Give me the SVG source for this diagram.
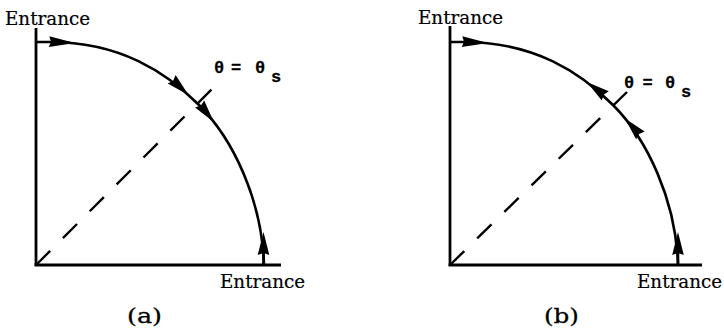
<svg xmlns="http://www.w3.org/2000/svg" xmlns:xlink="http://www.w3.org/1999/xlink" width="724" height="329" viewBox="0 0 724 329">
<style>
.ax{stroke:#000;stroke-width:2.8;fill:none;stroke-linecap:butt}
.cv{stroke:#000;stroke-width:2.6;fill:none}
.ds{stroke:#000;stroke-width:2.4;fill:none;stroke-dasharray:20 18}
.lb{font-family:"DejaVu Serif","Liberation Serif",serif;font-size:18.5px;fill:#000;stroke:#000;stroke-width:0.2}
.cap{font-family:"DejaVu Serif","Liberation Serif",serif;font-size:21px;fill:#000;stroke:#000;stroke-width:0.3;text-anchor:middle}
.th{font-family:"Liberation Mono","DejaVu Sans Mono",monospace;font-weight:bold;font-size:17px;fill:#000;stroke:#000;stroke-width:0.3;text-anchor:middle}
</style>
<defs>
<path id="ah" d="M0,0 L-23,-5.8 L-21,0 L-23,5.8 Z" fill="#000"/>
<path id="ahL" d="M0,0 L-26,-5.4 L-24,0 L-26,5.4 Z" fill="#000"/>
</defs>

<g id="panel-a">
  <g id="axes-a">
    <path class="ax" d="M36,28 V266"/>
    <path class="ax" d="M34.6,265 H281"/>
  </g>
  <g id="connectors-a">
    <path class="ds" d="M36,265 L212,89"/>
    <path class="cv" d="M36,42 H50 C120,42 166,72 199,105 C233,139 262,200 264,265"/>
    <path class="cv" d="M263.5,265 V250"/>
    <use xlink:href="#ahL" transform="translate(75,43) rotate(3)"/>
    <use xlink:href="#ah" transform="translate(188.5,95) rotate(43)"/>
    <use xlink:href="#ah" transform="translate(213.8,122.1) rotate(52)"/>
    <use xlink:href="#ah" transform="translate(263.5,232) rotate(-90)"/>
  </g>
  <g id="labels-a">
    <text class="lb" x="5" y="24.5" textLength="85" lengthAdjust="spacingAndGlyphs">Entrance</text>
    <text class="lb" x="220" y="287.5" textLength="85" lengthAdjust="spacingAndGlyphs">Entrance</text>
    <text class="th" x="219" y="73">θ</text>
    <text class="th" x="236" y="73">=</text>
    <text class="th" x="260" y="73">θ</text>
    <text class="th" x="276" y="82">s</text>
    <text class="cap" x="144.5" y="323" textLength="35" lengthAdjust="spacingAndGlyphs">(a)</text>
  </g>
</g>

<g id="panel-b">
  <g id="axes-b">
    <path class="ax" d="M450,26 V266"/>
    <path class="ax" d="M448.6,265 H702"/>
  </g>
  <g id="connectors-b">
    <path class="ds" d="M450,265 L627,92"/>
    <g transform="translate(414,0)">
      <path class="cv" d="M36,42 H50 C120,42 166,72 199,105 C233,139 262,200 264,265"/>
      <path class="cv" d="M264,265 V250"/>
      <use xlink:href="#ahL" transform="translate(74,43) rotate(3)"/>
      <use xlink:href="#ah" transform="translate(172.9,82.1) rotate(217)"/>
      <use xlink:href="#ah" transform="translate(211,118.4) rotate(228)"/>
      <use xlink:href="#ah" transform="translate(264,232) rotate(-90)"/>
    </g>
  </g>
  <g id="labels-b">
    <text class="lb" x="418" y="23.5" textLength="85" lengthAdjust="spacingAndGlyphs">Entrance</text>
    <text class="lb" x="637" y="287.5" textLength="85" lengthAdjust="spacingAndGlyphs">Entrance</text>
    <text class="th" x="629" y="88">θ</text>
    <text class="th" x="647.5" y="88">=</text>
    <text class="th" x="670" y="88">θ</text>
    <text class="th" x="686" y="97">s</text>
    <text class="cap" x="561.5" y="323" textLength="35" lengthAdjust="spacingAndGlyphs">(b)</text>
  </g>
</g>
</svg>
